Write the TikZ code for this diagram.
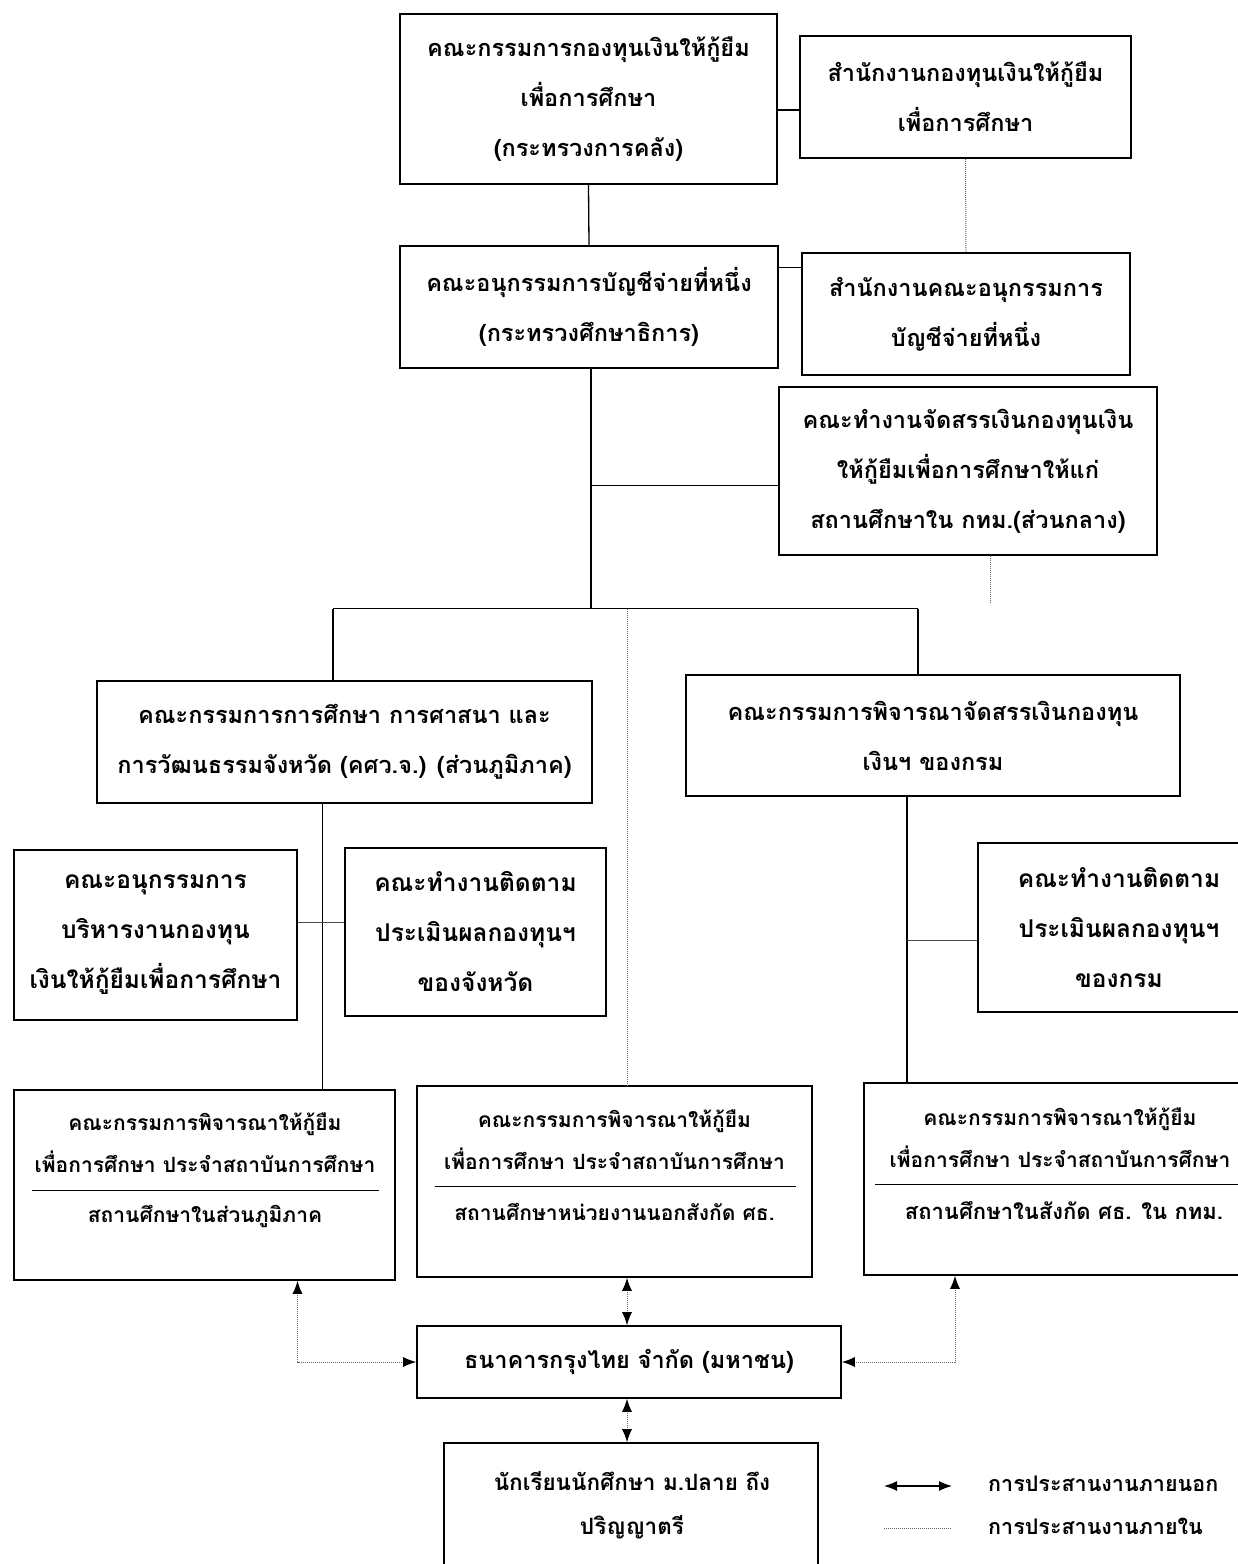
\documentclass[tikz,border=0pt]{standalone}
\usepackage{fontspec}
\newfontfamily\thaifont[Script=Thai]{Loma}
\usetikzlibrary{calc,arrows.meta}
\begin{document}
\begin{tikzpicture}[x=1pt,y=-1pt,
  box/.style={draw, line width=1.6pt, rectangle, inner sep=0pt, font=\thaifont\bfseries\fontsize{23.5}{50}\selectfont, align=center},
  ibox/.style={box, font=\thaifont\bfseries\fontsize{24.5}{50}\selectfont},
  txt/.style={inner sep=0pt, font=\thaifont\bfseries\fontsize{21}{48}\selectfont, align=center},
  legtxt/.style={inner sep=0pt, font=\thaifont\bfseries\fontsize{21.5}{30}\selectfont},
  conn/.style={line width=1.3pt},
  thinconn/.style={line width=0.9pt, black!70},
  dots/.style={line width=1pt, densely dotted, black!60},
  darr/.style={dots, <->, >={Latex[length=13pt,width=10pt,color=black]}},
  sarr/.style={line width=1.3pt, <->, >={Latex[length=13pt,width=10pt,color=black]}}
]
\useasboundingbox (0,0) rectangle (1238,1564);
\fill[white] (0,0) rectangle (1238,1564);

% level 1
\node[box, minimum width=377pt, minimum height=170pt] (A) at (588.5,99) {คณะกรรมการกองทุนเงินให้กู้ยืม\\เพื่อการศึกษา\\(กระทรวงการคลัง)};
\node[box, minimum width=331pt, minimum height=122pt] (B) at (965.5,97) {สำนักงานกองทุนเงินให้กู้ยืม\\เพื่อการศึกษา};
% level 2
\node[box, minimum width=378pt, minimum height=122pt] (C) at (589,307) {คณะอนุกรรมการบัญชีจ่ายที่หนึ่ง\\(กระทรวงศึกษาธิการ)};
\node[box, minimum width=328pt, minimum height=122pt] (D) at (966,314) {สำนักงานคณะอนุกรรมการ\\บัญชีจ่ายที่หนึ่ง};
\node[box, minimum width=378pt, minimum height=168pt] (E) at (968,471) {คณะทำงานจัดสรรเงินกองทุนเงิน\\ให้กู้ยืมเพื่อการศึกษาให้แก่\\สถานศึกษาใน กทม.(ส่วนกลาง)};
% level 3
\node[box, minimum width=495pt, minimum height=122pt] (F) at (344.5,742) {คณะกรรมการการศึกษา การศาสนา และ\\การวัฒนธรรมจังหวัด (คศว.จ.) (ส่วนภูมิภาค)};
\node[box, minimum width=494pt, minimum height=121pt] (G) at (933,735.5) {คณะกรรมการพิจารณาจัดสรรเงินกองทุน\\เงินฯ ของกรม};
% level 4
\node[ibox, minimum width=283pt, minimum height=170pt] (I1) at (155.5,935) {คณะอนุกรรมการ\\บริหารงานกองทุน\\เงินให้กู้ยืมเพื่อการศึกษา};
\node[ibox, minimum width=261pt, minimum height=168pt] (I2) at (475.5,932) {คณะทำงานติดตาม\\ประเมินผลกองทุนฯ\\ของจังหวัด};
\node[ibox, minimum width=282pt, minimum height=169pt] (I3) at (1119,927.5) {คณะทำงานติดตาม\\ประเมินผลกองทุนฯ\\ของกรม};
% level 5
\node[box, minimum width=381pt, minimum height=190pt] (H1) at (204.5,1185) {};
\node[box, minimum width=395pt, minimum height=191pt] (H2) at (614.5,1181.5) {};
\node[box, minimum width=390pt, minimum height=192pt] (H3) at (1059,1179) {};
\node[txt] (H1t) at (205,1143) {คณะกรรมการพิจารณาให้กู้ยืม\\[-6pt]เพื่อการศึกษา ประจำสถาบันการศึกษา};
\node[txt] (H1b) at (205,1216) {สถานศึกษาในส่วนภูมิภาค};
\node[txt] (H2t) at (614.5,1140) {คณะกรรมการพิจารณาให้กู้ยืม\\[-6pt]เพื่อการศึกษา ประจำสถาบันการศึกษา};
\node[txt] (H2b) at (614.5,1212) {สถานศึกษาหน่วยงานนอกสังกัด ศธ.};
\node[txt] (H3t) at (1060,1138) {คณะกรรมการพิจารณาให้กู้ยืม\\[-6pt]เพื่อการศึกษา ประจำสถาบันการศึกษา};
\node[txt, font=\thaifont\bfseries\fontsize{22}{48}\selectfont] (H3b) at (1064,1211) {สถานศึกษาในสังกัด ศธ. ใน กทม.};
\draw[conn] ($(H1.north west)+(19,101)$) coordinate (r1a) -- ($(H1.north east)+(-17,101)$) coordinate (r1b);
\draw[conn] ($(H2.north west)+(19,101)$) coordinate (r2a) -- ($(H2.north east)+(-17,101)$) coordinate (r2b);
\draw[conn] ($(H3.north west)+(12,102)$) coordinate (r3a) -- ($(H3.north east)+(-5,102)$) coordinate (r3b);
% bank and students
\node[box, minimum width=424pt, minimum height=72pt] (J) at (629,1362) {ธนาคารกรุงไทย จำกัด (มหาชน)};
\node[box, minimum width=374pt, minimum height=156pt] (K) at (631,1521) {};
\node[txt, font=\thaifont\bfseries\fontsize{22.5}{44}\selectfont] (Kt) at (632,1505) {นักเรียนนักศึกษา ม.ปลาย ถึง\\ปริญญาตรี};

% connectors top
\draw[conn] ($(A.east)+(0,11)$) coordinate (ab) -- (ab -| B.west);
\draw[conn] (A.south) -- (C.north);
\draw[dots] (B.south) -- (D.north);
\draw[conn] ($(C.north east)+(0,22)$) coordinate (cd) -- (cd -| D.west);
% trunk
\coordinate (t0) at ($(C.south)+(2,0)$);
\coordinate (tE) at ($(t0)+(0,117)$);
\coordinate (tb) at ($(t0)+(0,240)$);
\draw[conn] (t0) -- (tb);
\draw[conn] (tE) -- (tE -| E.west);
\coordinate (bl) at ($(tb)+(-258,0)$);
\coordinate (br) at ($(tb)+(327,0)$);
\draw[conn] (bl) -- (br);
\draw[conn] (bl) -- (bl |- F.north);
\draw[conn] (br) -- (br |- G.north);
\coordinate (dm) at ($(tb)+(36,0)$);
\draw[dots] (dm) -- (dm |- H2.north);
\coordinate (eS) at ($(E.south)+(22,0)$);
\draw[dots] (eS) -- ($(eS |- br)+(0,-6)$);
% left branch
\coordinate (fS) at ($(F.south)+(-22,0)$);
\draw[conn] (fS) -- (fS |- H1.north);
\coordinate (i12) at ($(I1.east)+(0,-13)$);
\draw[thinconn] (i12) -- (i12 -| I2.west);
% right branch
\coordinate (gS) at ($(G.south)+(-26,0)$);
\draw[conn] (gS) -- (gS |- H3.north);
\coordinate (gi) at ($(gS)+(0,144)$);
\draw[thinconn] (gi) -- (gi -| I3.west);
% bottom arrows
\draw[darr] (H2.south -| dm) -- (J.north -| dm);
\draw[darr] (J.south -| dm) -- (K.north -| dm);
\coordinate (h1c) at ($(H1.south)+(93,0)$);
\draw[darr] (h1c) -- (h1c |- J.west) -- (J.west);
\coordinate (h3c) at ($(H3.south)+(-104,0)$);
\draw[darr] (J.east) -- (J.east -| h3c) -- (h3c);

% legend
\coordinate (L1a) at (884,1486);
\coordinate (L1b) at (952,1486);
\draw[sarr] (L1a) -- (L1b);
\node[legtxt, anchor=west] (L1t) at (988,1484) {การประสานงานภายนอก};
\coordinate (L2a) at (884,1528);
\coordinate (L2b) at (952,1528);
\draw[dots] (L2a) -- (L2b);
\node[legtxt, anchor=west] (L2t) at (988,1526) {การประสานงานภายใน};
\end{tikzpicture}
\end{document}
